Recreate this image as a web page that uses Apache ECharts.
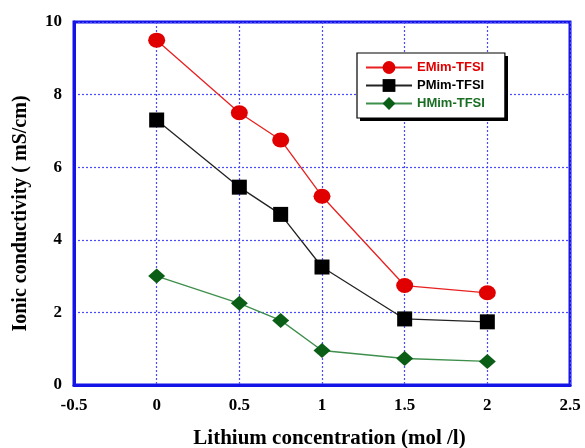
<!DOCTYPE html>
<html>
<head>
<meta charset="utf-8">
<script src="https://cdn.jsdelivr.net/npm/echarts@6/dist/echarts.min.js"></script>
<style>
  html, body { margin: 0; padding: 0; background: #fff; }
  #chart { width: 585px; height: 448px; }
</style>
</head>
<body>
<div id="chart"></div>
<script>
  // Li concentration (mol/l)
  const concentrations = [0, 0.5, 0.75, 1, 1.5, 2]
  const emimValues = [9.5, 7.5, 6.75, 5.2, 2.74, 2.54]
  const pmimValues = [7.3, 5.45, 4.7, 3.25, 1.82, 1.74]
  const hmimValues = [3.0, 2.25, 1.78, 0.95, 0.73, 0.65]
  const seriesNames = ['EMim-TFSI', 'PMim-TFSI', 'HMim-TFSI']
  const markerColors = ['#e00000', '#000000', '#0b5e16']
  const lineColors = ['#e82020', '#222222', '#3f8f4c']
  const textColors = ['#e00000', '#000000', '#1a6e24']

  const pairs = vals => concentrations.map((c, i) => [c, vals[i]])

  const blue = '#1414e6'
  const gridBlue = '#4a4aff'
  const serif = '"Liberation Serif", "Times New Roman", serif'
  const sans = '"Liberation Sans", Arial, sans-serif'

  const chart = echarts.init(document.getElementById('chart'))

  const makeSeries = (i, vals, symbol, size) => ({
    name: seriesNames[i],
    type: 'line',
    data: pairs(vals),
    symbol: symbol,
    symbolSize: size,
    lineStyle: { color: lineColors[i], width: 1.3 },
    itemStyle: { color: markerColors[i] }
  })

  // legend box: 148 x 65 at (357, 53), drop shadow offset 3px
  const legendBox = { left: 357, top: 53, width: 148, height: 65 }

  chart.setOption({
    animation: false,
    grid: {
      left: 74, right: 15, top: 22, bottom: 63,
      outerBoundsMode: 'none',
      containLabel: false,
      show: true,
      borderColor: blue,
      borderWidth: 3
    },
    graphic: [{
      type: 'rect',
      z: 1,
      left: legendBox.left + 3,
      top: legendBox.top + 3,
      shape: { width: legendBox.width, height: legendBox.height },
      style: { fill: '#000' }
    }],
    legend: {
      z: 10,
      orient: 'vertical',
      left: legendBox.left,
      top: legendBox.top,
      padding: [8, 20, 8, 8],
      itemGap: 5,
      itemWidth: 46,
      itemHeight: 16,
      backgroundColor: '#fff',
      borderColor: '#000',
      borderWidth: 1.2,
      data: seriesNames.map((n, i) => ({
        name: n,
        textStyle: { color: textColors[i] }
      })),
      textStyle: { fontFamily: sans, fontWeight: 'bold', fontSize: 13 }
    },
    xAxis: {
      type: 'value',
      min: -0.5,
      max: 2.5,
      interval: 0.5,
      name: 'Lithium concentration (mol /l)',
      nameLocation: 'middle',
      nameGap: 43,
      nameTextStyle: { fontFamily: serif, fontWeight: 'bold', fontSize: 21, color: '#000', padding: [0, 0, 0, 15] },
      axisLine: { show: true, onZero: false, lineStyle: { color: blue, width: 3 } },
      axisTick: { show: false },
      axisLabel: { fontFamily: serif, fontWeight: 'bold', fontSize: 17, color: '#000', margin: 12 },
      splitLine: { show: true, lineStyle: { color: gridBlue, type: [2, 2], width: 1.2 } }
    },
    yAxis: {
      type: 'value',
      min: 0,
      max: 10,
      interval: 2,
      name: 'Ionic conductivity ( mS/cm)',
      nameLocation: 'middle',
      nameGap: 43,
      nameTextStyle: { fontFamily: serif, fontWeight: 'bold', fontSize: 20, color: '#000', padding: [0, 20, 0, 0] },
      axisLine: { show: true, onZero: false, lineStyle: { color: blue, width: 3 } },
      axisTick: { show: false },
      axisLabel: { fontFamily: serif, fontWeight: 'bold', fontSize: 17, color: '#000', margin: 12 },
      splitLine: { show: true, lineStyle: { color: gridBlue, type: [2, 2], width: 1.2 } }
    },
    series: [
      makeSeries(0, emimValues, 'circle', [17, 15]),
      makeSeries(1, pmimValues, 'rect', 15),
      makeSeries(2, hmimValues, 'diamond', [17, 15])
    ]
  })
</script>
</body>
</html>
